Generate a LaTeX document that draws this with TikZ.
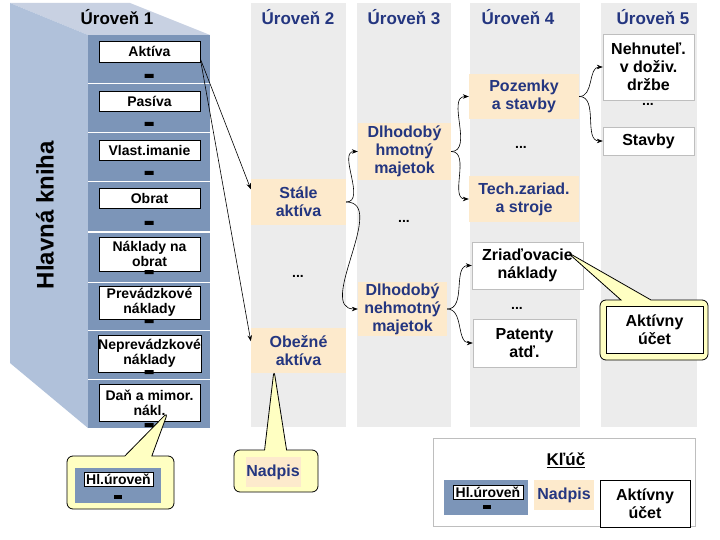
\documentclass[tikz,border=0pt]{standalone}
\usepackage{fontspec}
\setmainfont{Liberation Sans}
\usepackage{tikz}
\usetikzlibrary{positioning,arrows.meta,shapes.callouts}

\definecolor{frontblue}{RGB}{124,149,184}
\definecolor{sideblue}{RGB}{176,193,218}
\definecolor{topblue}{RGB}{200,209,226}
\definecolor{colgray}{RGB}{236,236,236}
\definecolor{beige}{RGB}{253,234,204}
\definecolor{navy}{RGB}{36,54,128}
\definecolor{linegray}{RGB}{190,190,190}
\definecolor{balloonyellow}{RGB}{255,255,194}

\begin{document}
\begin{tikzpicture}[x=1pt,y=-1pt,
	lvlone/.style={draw=black,fill=white,line width=0.6pt,inner sep=0pt,minimum width=101pt,align=center,font=\fontsize{14}{15}\selectfont\bfseries},
	heading/.style={fill=beige,text=navy,inner sep=0pt,align=center,font=\fontsize{16}{18}\selectfont\bfseries},
	account/.style={draw=linegray,fill=white,inner sep=0pt,align=center,font=\fontsize{16}{18}\selectfont\bfseries},
	levelname/.style={text=navy,font=\fontsize{17}{18}\selectfont\bfseries},
	balloon/.style={rectangle callout,draw=black,fill=balloonyellow,line width=0.8pt,rounded corners=6pt,inner sep=0pt},
	arr/.style={-{Stealth[length=6pt,width=4.5pt]},line width=0.6pt}]
		\useasboundingbox (0,0) rectangle (720,540);
		%Ledger block
		\fill[topblue] (10,3)--(130,3)--(210,35)--(88,35)--cycle;
		\fill[sideblue] (10,3)--(88,35)--(88,428)--(10,363)--cycle;
		\fill[frontblue] (88,35) rectangle (210,428);
		\draw[white,line width=1pt] (88,84)--(210,84) (88,133)--(210,133) (88,182)--(210,182) (88,232)--(210,232)
			(88,282)--(210,282) (88,330)--(210,330) (88,379)--(210,379);
		\node[font=\fontsize{17}{18}\selectfont\bfseries] (lvl1) at (117,17) {Úroveň 1};
		\node[rotate=90,font=\fontsize{24}{26}\selectfont\bfseries] (kniha) at (45,215) {Hlavná kniha};
		\node[lvlone,minimum height=21pt] (aktiva) at (149.5,51.5) {Aktíva};
		\node[lvlone,minimum height=20pt] (pasiva) at (149.5,101.5) {Pasíva};
		\node[lvlone,minimum height=20pt] (vlast) at (149.5,150) {Vlast.imanie};
		\node[lvlone,minimum height=20pt] (obrat) at (149.5,198) {Obrat};
		\node[lvlone,minimum height=34pt] (naklady) at (149.5,254) {Náklady na\\obrat};
		\node[lvlone,minimum height=33pt] (prevadz) at (149.5,302.5) {Prevádzkové\\náklady};
		\node[lvlone,minimum height=37pt] (neprevadz) at (149.5,353.5) {Neprevádzkové\\náklady};
		\node[lvlone,minimum height=37pt] (dan) at (149.5,402.5) {Daň a mimor.\\nákl.};
		\fill[black] (144.5,74) rectangle (153.5,78) (144.5,122) rectangle (153.5,126) (144.5,171) rectangle (153.5,175)
			(144.5,221) rectangle (153.5,225) (144.5,270) rectangle (153.5,274) (144.5,319) rectangle (153.5,323)
			(144.5,370) rectangle (153.5,374) (144.5,423) rectangle (153.5,427);
		%Columns
		\fill[colgray] (251,3) rectangle (346,427);
		\fill[colgray] (357,3) rectangle (451,427);
		\fill[colgray] (470,3) rectangle (580,427);
		\fill[colgray] (601,3) rectangle (697,427);
		\node[levelname] (lvl2) at (298,17) {Úroveň 2};
		\node[levelname] (lvl3) at (404,17) {Úroveň 3};
		\node[levelname] (lvl4) at (518,17) {Úroveň 4};
		\node[levelname] (lvl5) at (653,17) {Úroveň 5};
		%Accounts
		\node[heading,minimum width=95pt,minimum height=46pt] (stale) at (298.5,202) {Stále\\aktíva};
		\node[heading,minimum width=95pt,minimum height=45pt] (obezne) at (298.5,350.5) {Obežné\\aktíva};
		\node[heading,minimum width=93pt,minimum height=57pt] (hmotny) at (404.5,151.5) {Dlhodobý\\hmotný\\majetok};
		\node[heading,minimum width=89pt,minimum height=54pt] (nehmotny) at (402.5,309) {Dlhodobý\\nehmotný\\majetok};
		\node[heading,minimum width=110pt,minimum height=45pt] (pozemky) at (524,96.5) {Pozemky\\a stavby};
		\node[heading,minimum width=110pt,minimum height=46pt] (tech) at (524,199) {Tech.zariad.\\a stroje};
		\node[account,minimum width=111pt,minimum height=47pt] (zriad) at (527.5,265.5) {Zriaďovacie\\náklady};
		\node[account,minimum width=103pt,minimum height=48pt] (patenty) at (524.5,343) {Patenty\\atď.};
		\node[account,minimum width=91pt,minimum height=66pt] (nehnut) at (648.5,67) {Nehnuteľ.\\v doživ.\\držbe};
		\node[account,minimum width=91pt,minimum height=28pt] (stavby) at (648.5,141) {Stavby};
		\node[font=\fontsize{14}{15}\selectfont\bfseries] (dots2) at (298,276) {...};
		\node[font=\fontsize{14}{15}\selectfont\bfseries] (dots3) at (404,221) {...};
		\node[font=\fontsize{14}{15}\selectfont\bfseries] (dots4a) at (521,147) {...};
		\node[font=\fontsize{14}{15}\selectfont\bfseries] (dots4b) at (517,308) {...};
		\node[font=\fontsize{14}{15}\selectfont\bfseries] (dots5) at (648,104) {...};
		%Arrows
		\draw[arr] (aktiva.-8) -- (stale.165);
		\draw[arr] (aktiva.-8) -- (obezne.169);
		\draw[arr] (stale.east) to[out=0,in=180] (hmotny.west);
		\draw[arr] (stale.east) to[out=0,in=180] (nehmotny.west);
		\draw[arr] (hmotny.east) to[out=0,in=180] (pozemky.west);
		\draw[arr] (hmotny.east) to[out=0,in=180] (tech.west);
		\draw[arr] (nehmotny.east) to[out=0,in=180] (zriad.west);
		\draw[arr] (nehmotny.east) to[out=0,in=180] (patenty.west);
		\draw[arr] (pozemky.east) to[out=0,in=180] (nehnut.west);
		\draw[arr] (pozemky.east) to[out=0,in=180] (stavby.west);
		%Callouts
		\coordinate (hltip) at (168,412);
		\coordinate (nadpistip) at (274,370);
		\coordinate (ucettip) at (567,252);
		\node[balloon,minimum width=107pt,minimum height=53pt,callout absolute pointer={(hltip)},callout pointer width=27pt] (hlballoon) at (120.5,482.5) {};
		\node[balloon,minimum width=84pt,minimum height=42pt,callout absolute pointer={(nadpistip)},callout pointer width=22pt] (nadpisballoon) at (276,471) {};
		\node[balloon,minimum width=108pt,minimum height=60pt,callout absolute pointer={(ucettip)},callout pointer width=30pt] (ucetballoon) at (654,330) {};
		\node[fill=frontblue,minimum width=86pt,minimum height=35pt,inner sep=0pt] (hlicon) at (118,485.5) {};
		\node[lvlone,minimum width=69pt,minimum height=14pt] (hllabel) at (118.5,479) {Hl.úroveň};
		\fill[black] (114,495) rectangle (122,499);
		\node[heading,minimum width=55pt,minimum height=30pt] (nadpis) at (273,472) {Nadpis};
		\node[draw=black,fill=white,line width=0.8pt,inner sep=0pt,minimum width=97pt,minimum height=47pt,align=center,font=\fontsize{16}{18}\selectfont\bfseries] (ucet) at (654.5,329.5) {Aktívny\\účet};
		%Key
		\node[draw=linegray,fill=white,minimum width=262pt,minimum height=88pt,inner sep=0pt] (key) at (564,482) {};
		\node[font=\fontsize{17}{18}\selectfont\bfseries] (keytitle) at (566,460) {\underline{Kľúč}};
		\node[fill=frontblue,minimum width=84pt,minimum height=35pt,inner sep=0pt] (keyicon) at (486,497.5) {};
		\node[lvlone,minimum width=70pt,minimum height=14pt] (keylabel) at (488,492) {Hl.úroveň};
		\fill[black] (483,505) rectangle (491,509);
		\node[heading,minimum width=60pt,minimum height=30pt] (keynadpis) at (564,495) {Nadpis};
		\node[draw=black,fill=white,line width=0.8pt,inner sep=0pt,minimum width=90pt,minimum height=47pt,align=center,font=\fontsize{16}{18}\selectfont\bfseries] (keyucet) at (645,503.5) {Aktívny\\účet};
\end{tikzpicture}
\end{document}
